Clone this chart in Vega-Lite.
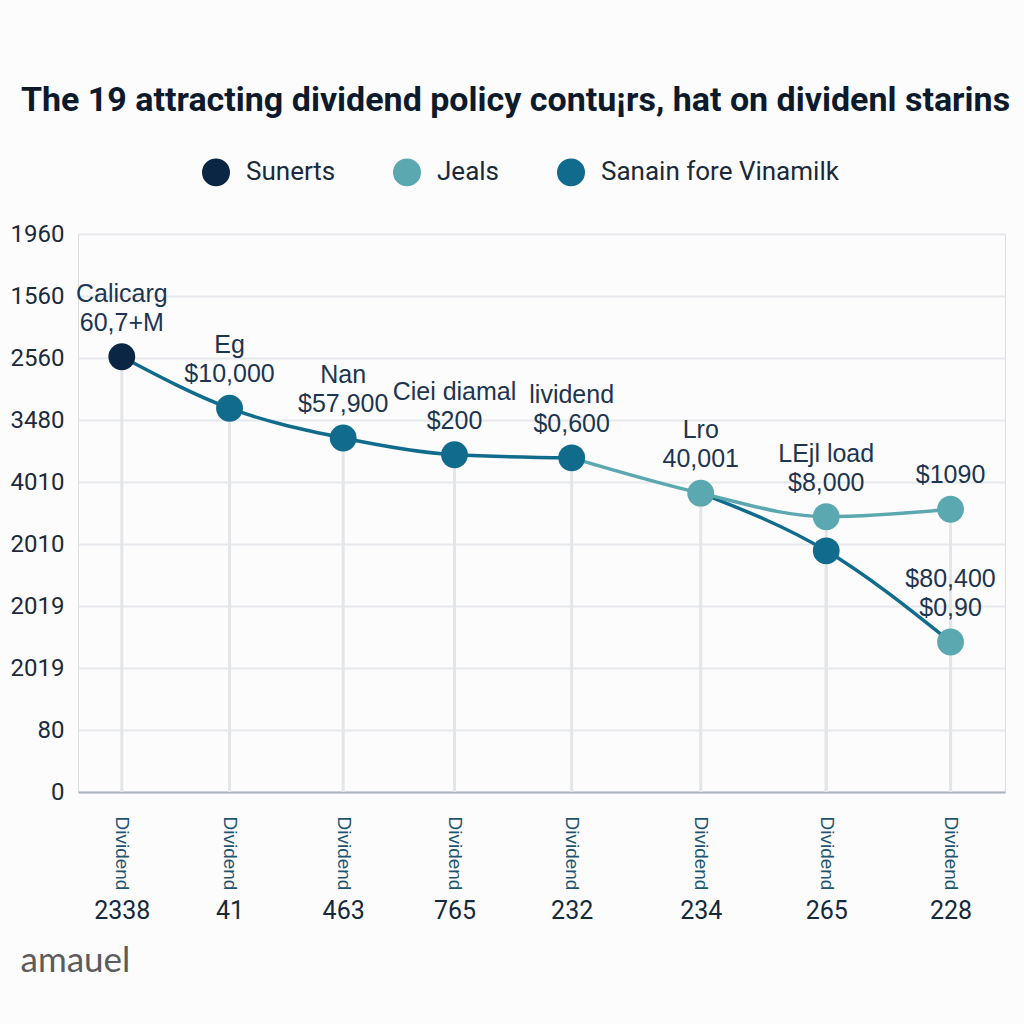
{
  "$schema": "https://vega.github.io/schema/vega-lite/v6.json",
  "width": 927,
  "height": 558,
  "autosize": {"type": "none"},
  "padding": {"left": 78, "top": 234, "right": 19, "bottom": 232},
  "background": "#fcfcfc",
  "title": {
    "text": "The 19 attracting dividend policy contu¡rs, hat on dividenl starins",
    "font": "Roboto",
    "fontSize": 34,
    "fontWeight": "bold",
    "color": "#0d1a2c",
    "anchor": "middle",
    "dx": -26,
    "offset": 40
  },
  "datasets": {
    "pts": [
      {"t": 0, "v": 7.02, "series": "Sunerts", "label": "Calicarg\n60,7+M"},
      {"t": 0.91, "v": 6.19, "series": "Sanain fore Vinamilk", "label": "Eg\n$10,000"},
      {"t": 1.87, "v": 5.71, "series": "Sanain fore Vinamilk", "label": "Nan\n$57,900"},
      {"t": 2.81, "v": 5.44, "series": "Sanain fore Vinamilk", "label": "Ciei diamal\n$200"},
      {"t": 3.8, "v": 5.39, "series": "Sanain fore Vinamilk", "label": "lividend\n$0,600"},
      {"t": 4.89, "v": 4.82, "series": "Jeals", "label": "Lro\n40,001"},
      {"t": 5.95, "v": 4.44, "series": "Jeals", "label": "LEjl load\n$8,000"},
      {"t": 5.95, "v": 3.89, "series": "Sanain fore Vinamilk", "label": ""},
      {"t": 7, "v": 4.56, "series": "Jeals", "label": " \n$1090"},
      {"t": 7, "v": 2.42, "series": "Jeals", "label": "$80,400\n$0,90"}
    ],
    "lines": [
      {"t": 0, "v": 7.02, "series": "Sanain fore Vinamilk", "seg": "A1"},
      {"t": 0.91, "v": 6.19, "series": "Sanain fore Vinamilk", "seg": "A1"},
      {"t": 1.87, "v": 5.71, "series": "Sanain fore Vinamilk", "seg": "A1"},
      {"t": 2.81, "v": 5.44, "series": "Sanain fore Vinamilk", "seg": "A1"},
      {"t": 3.8, "v": 5.39, "series": "Sanain fore Vinamilk", "seg": "A1"},
      {"t": 4.89, "v": 4.82, "series": "Sanain fore Vinamilk", "seg": "A2"},
      {"t": 5.95, "v": 3.89, "series": "Sanain fore Vinamilk", "seg": "A2"},
      {"t": 7, "v": 2.42, "series": "Sanain fore Vinamilk", "seg": "A2"},
      {"t": 3.8, "v": 5.39, "series": "Jeals", "seg": "B"},
      {"t": 4.89, "v": 4.82, "series": "Jeals", "seg": "B"},
      {"t": 5.95, "v": 4.44, "series": "Jeals", "seg": "B"},
      {"t": 7, "v": 4.56, "series": "Jeals", "seg": "B"}
    ]
  },
  "resolve": {"axis": {"x": "independent"}},
  "layer": [
    {
      "data": {"name": "pts"},
      "mark": {"type": "rule", "color": "#e3e5e8", "strokeWidth": 3},
      "encoding": {
        "x": {
          "field": "t", "type": "quantitative",
          "scale": {"domain": [-0.37, 7.46], "nice": false, "zero": false},
          "axis": {
            "orient": "bottom",
            "values": [0, 0.91, 1.87, 2.81, 3.8, 4.89, 5.95, 7],
            "labelExpr": "'Dividend'",
            "labelAngle": 90, "labelAlign": "left", "labelBaseline": "middle",
            "labelPadding": 24, "labelFontSize": 19, "labelFont": "Liberation Sans",
            "labelColor": "#1f5471",
            "domain": true, "domainColor": "#aab4be", "domainWidth": 2,
            "ticks": false, "grid": false, "title": null
          }
        },
        "y": {
          "field": "v", "type": "quantitative",
          "scale": {"domain": [0, 9], "nice": false, "zero": true},
          "axis": {
            "values": [0, 1, 2, 3, 4, 5, 6, 7, 8, 9],
            "labelExpr": "['0','80','2019','2019','2010','4010','3480','2560','1560','1960'][datum.value]",
            "grid": true, "gridColor": "#e6e8eb", "gridWidth": 2,
            "domain": false, "ticks": false,
            "labelFontSize": 24, "labelFont": "Roboto", "labelColor": "#1b2b3b",
            "labelPadding": 14, "title": null
          }
        },
        "y2": {"datum": 0}
      }
    },
    {
      "data": {"name": "lines"},
      "mark": {"type": "line", "strokeWidth": 3.5, "interpolate": "monotone"},
      "encoding": {
        "x": {"field": "t", "type": "quantitative", "axis": null},
        "y": {"field": "v", "type": "quantitative"},
        "detail": {"field": "seg"},
        "color": {"field": "series", "type": "nominal"}
      }
    },
    {
      "data": {"name": "pts"},
      "mark": {"type": "point", "filled": true, "opacity": 1, "size": 720},
      "encoding": {
        "x": {"field": "t", "type": "quantitative", "axis": null},
        "y": {"field": "v", "type": "quantitative"},
        "color": {
          "field": "series", "type": "nominal",
          "scale": {"domain": ["Sunerts", "Jeals", "Sanain fore Vinamilk"], "range": ["#0b2545", "#5ba8b0", "#116b8c"]},
          "legend": {
            "orient": "none", "legendX": 124, "legendY": -76,
            "direction": "horizontal", "title": null,
            "symbolType": "circle", "symbolSize": 700,
            "labelFontSize": 26, "labelFont": "Roboto", "labelColor": "#1a2a3a",
            "labelOffset": 16, "columnPadding": 54, "labelLimit": 400
          }
        }
      }
    },
    {
      "data": {"name": "pts"},
      "mark": {"type": "text", "align": "center", "baseline": "bottom", "dy": -50, "fontSize": 25, "lineHeight": 29, "font": "Liberation Sans", "color": "#1c3550", "lineBreak": "\n"},
      "encoding": {
        "x": {
          "field": "t", "type": "quantitative",
          "axis": {
            "orient": "bottom",
            "values": [0, 0.91, 1.87, 2.81, 3.8, 4.89, 5.95, 7],
            "labelExpr": "['2338','41','463','765','232','234','265','228'][indexof([0,0.91,1.87,2.81,3.8,4.89,5.95,7], datum.value)]",
            "labelPadding": 106, "labelFontSize": 25, "labelFont": "Roboto", "labelColor": "#15293d",
            "labelBaseline": "top",
            "domain": false, "ticks": false, "grid": false,
            "title": "amauel", "titleAnchor": "start", "titleAlign": "left", "titleBaseline": "middle",
            "titleX": -58, "titleY": 168, "titleFontSize": 35, "titleFont": "Lato", "titleFontWeight": "normal", "titleColor": "#5c5c5c"
          }
        },
        "y": {"field": "v", "type": "quantitative"},
        "text": {"field": "label"}
      }
    }
  ]
}
